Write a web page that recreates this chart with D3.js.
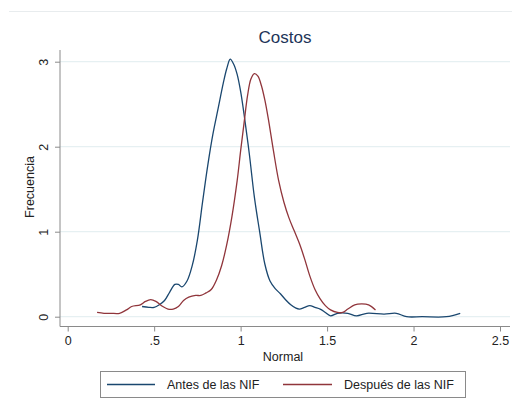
<!DOCTYPE html>
<html>
<head>
<meta charset="utf-8">
<script src="https://cdn.jsdelivr.net/npm/d3@7"></script>
<style>
  body { margin: 0; background: #fff; }
  text { font-family: "Liberation Sans", Arial, sans-serif; }
</style>
</head>
<body>
<div class="canvas"></div>
<script>
// density curves: [x, y]
const antes = [[0.43,0.12],[0.47,0.11],[0.50,0.11],[0.53,0.14],[0.56,0.19],[0.59,0.29],[0.62,0.38],[0.64,0.38],
  [0.66,0.35],[0.69,0.42],[0.72,0.60],[0.75,0.90],[0.78,1.35],[0.81,1.78],[0.84,2.15],[0.87,2.45],[0.90,2.75],
  [0.92,2.92],[0.94,3.03],[0.96,2.97],[0.98,2.85],[1.00,2.65],[1.02,2.38],[1.05,1.92],[1.08,1.40],[1.11,1.00],
  [1.14,0.62],[1.17,0.42],[1.20,0.33],[1.23,0.27],[1.26,0.20],[1.29,0.14],[1.32,0.10],[1.34,0.09],[1.37,0.11],
  [1.40,0.13],[1.43,0.11],[1.46,0.09],[1.49,0.05],[1.52,0.01],[1.56,0.04],[1.62,0.04],[1.67,0.01],[1.73,0.04],
  [1.83,0.03],[1.90,0.04],[1.96,0.0],[2.05,0.0],[2.19,0.0],[2.27,0.04]];
const despues = [[0.17,0.05],[0.21,0.04],[0.25,0.04],[0.30,0.04],[0.34,0.08],[0.37,0.12],[0.42,0.14],[0.45,0.18],
  [0.48,0.20],[0.51,0.18],[0.55,0.12],[0.58,0.09],[0.61,0.09],[0.64,0.12],[0.67,0.19],[0.70,0.23],[0.74,0.25],
  [0.77,0.25],[0.80,0.28],[0.83,0.32],[0.86,0.43],[0.89,0.60],[0.92,0.85],[0.95,1.18],[0.98,1.60],[1.00,1.95],
  [1.02,2.28],[1.04,2.60],[1.06,2.80],[1.08,2.86],[1.10,2.83],[1.12,2.72],[1.14,2.55],[1.16,2.33],[1.19,1.95],
  [1.22,1.60],[1.25,1.35],[1.28,1.16],[1.31,1.01],[1.34,0.86],[1.37,0.68],[1.40,0.48],[1.43,0.32],[1.46,0.21],
  [1.49,0.13],[1.52,0.08],[1.56,0.05],[1.59,0.05],[1.62,0.09],[1.66,0.14],[1.70,0.15],[1.74,0.14],[1.78,0.08]];
const xTicks = [0, 0.5, 1, 1.5, 2, 2.5];
const xTickLabels = ['0', '.5', '1', '1.5', '2', '2.5'];
const yTicks = [0, 1, 2, 3];
const seriesNames = ['Antes de las NIF', 'Después de las NIF'];
const seriesColors = ['#1a476f', '#90353b'];

const svg = d3.select('.canvas').append('svg')
  .attr('width', 512).attr('height', 412);

// faint frame line at top
svg.append('line').attr('x1', 9).attr('x2', 512).attr('y1', 11.5).attr('y2', 11.5)
  .attr('stroke', '#e8ecee').attr('stroke-width', 1);

const x = d3.scaleLinear().domain([0, 2.5]).range([67.7, 500]);
const y = d3.scaleLinear().domain([0, 3]).range([316.7, 61.7]);

const plotLeft = 60, plotRight = 510, axisY = 326.5;

// grid
svg.append('g').selectAll('line').data(yTicks).join('line')
  .attr('x1', plotLeft).attr('x2', plotRight)
  .attr('y1', d => y(d)).attr('y2', d => y(d))
  .attr('stroke', '#e6f0f2').attr('stroke-width', 1.2);

// y axis
const yAxis = svg.append('g').attr('transform', `translate(${plotLeft},0)`)
  .call(d3.axisLeft(y).tickValues(yTicks).tickSize(5).tickFormat(d3.format('d')));
yAxis.select('.domain').remove();
yAxis.append('line').attr('x1', 0).attr('x2', 0).attr('y1', 50).attr('y2', axisY)
  .attr('stroke', '#8a8a8a');
yAxis.selectAll('.tick line').attr('stroke', '#8a8a8a');
yAxis.selectAll('.tick text')
  .attr('transform', 'rotate(-90)').attr('x', 0).attr('y', -12)
  .attr('dy', 0).attr('text-anchor', 'middle')
  .attr('fill', '#222').attr('font-size', 12.5)
  .attr('font-family', '"Liberation Sans", Arial, sans-serif');

// x axis
const xAxis = svg.append('g').attr('transform', `translate(0,${axisY})`)
  .call(d3.axisBottom(x).tickValues(xTicks).tickSize(5).tickFormat((d, i) => xTickLabels[i]));
xAxis.select('.domain').remove();
xAxis.append('line').attr('x1', plotLeft).attr('x2', plotRight).attr('y1', 0).attr('y2', 0)
  .attr('stroke', '#8a8a8a');
xAxis.selectAll('.tick line').attr('stroke', '#8a8a8a');
xAxis.selectAll('.tick text')
  .attr('y', 10).attr('fill', '#222').attr('font-size', 12.5)
  .attr('font-family', '"Liberation Sans", Arial, sans-serif');

// titles
svg.append('text').attr('x', 285).attr('y', 43).attr('text-anchor', 'middle')
  .attr('font-size', 17).attr('fill', '#1e3559').text('Costos');
svg.append('text').attr('x', 283).attr('y', 361).attr('text-anchor', 'middle')
  .attr('font-size', 12.5).attr('fill', '#222').text('Normal');
svg.append('text').attr('transform', 'translate(34,187) rotate(-90)').attr('text-anchor', 'middle')
  .attr('font-size', 12.5).attr('fill', '#222').text('Frecuencia');

// curves
const line = d3.line().x(d => x(d[0])).y(d => y(d[1])).curve(d3.curveCatmullRom);
[antes, despues].forEach((s, i) => {
  svg.append('path').datum(s).attr('d', line)
    .attr('fill', 'none').attr('stroke', seriesColors[i]).attr('stroke-width', 1.3);
});

// legend
const legend = svg.append('g');
legend.append('rect').attr('x', 100.5).attr('y', 371.5).attr('width', 365).attr('height', 26)
  .attr('fill', '#fff').attr('stroke', '#8a8a8a');
const legX = [[107, 155, 167], [283, 332, 344]];
seriesNames.forEach((n, i) => {
  legend.append('line').attr('x1', legX[i][0]).attr('x2', legX[i][1]).attr('y1', 384.5).attr('y2', 384.5)
    .attr('stroke', seriesColors[i]).attr('stroke-width', 1.3);
  legend.append('text').attr('x', legX[i][2]).attr('y', 389)
    .attr('font-size', 12.5).attr('fill', '#222').text(n);
});
</script>
</body>
</html>
